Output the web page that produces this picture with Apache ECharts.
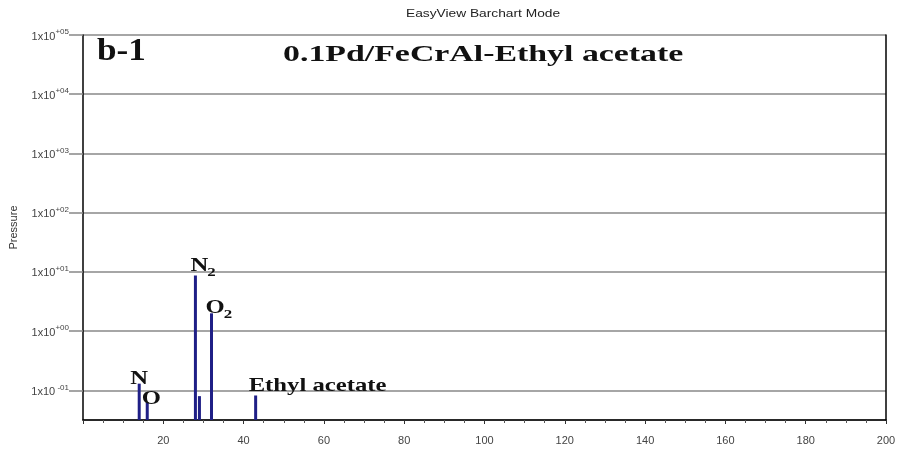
<!DOCTYPE html>
<html>
<head>
<meta charset="utf-8">
<script src="https://cdn.jsdelivr.net/npm/echarts@6/dist/echarts.min.js"></script>
<style>
html,body{margin:0;padding:0;background:#fff;}
#chart{width:899px;height:455px;}
</style>
</head>
<body>
<div id="chart"></div>
<script>
// ---- data ----
const massNumbers = [14, 16, 28, 29, 32, 43];
const pressures   = [0.13, 0.063, 8.7, 0.08, 2.0, 0.082];
const peakNames   = ['N', 'O', 'N', '', 'O', 'Ethyl acetate'];
const peakSubs    = ['', '', '2', '', '2', ''];
const xRange = [0, 200];
const yRange = [Math.pow(10, -1.5), 1e5];
const chartTitle = 'EasyView Barchart Mode';
const panelTag = 'b-1';
const panelTitle = '0.1Pd/FeCrAl-Ethyl acetate';
const yAxisName = 'Pressure';

// ---- label placement (style only) ----
const labelPlace = [
  {dx: 0,  dy: 1,  align: 'center'},
  {dx: 4,  dy: 2,  align: 'center'},
  {dx: -5, dy: -4, align: 'left'},
  null,
  {dx: -6, dy: 0,  align: 'left'},
  {dx: -7, dy: -4, align: 'left'}
];
const serif = '"Liberation Serif", "Times New Roman", serif';
const sans = '"Liberation Sans", Arial, sans-serif';
const LABEL_SIZE = 19, SUB_SIZE = 13, LABEL_SX = 1.3;

const measureCtx = document.createElement('canvas').getContext('2d');
function textW(str, font){ measureCtx.font = font; return measureCtx.measureText(str).width; }

const barColor = '#1f1f86';
const chart = echarts.init(document.getElementById('chart'), null, {renderer: 'canvas'});

const peakData = massNumbers.map((m, i) => [m, pressures[i], i]);

function pad2(n){ return (n < 10 ? '0' : '') + n; }

const option = {
  backgroundColor: '#fff',
  animation: false,
  grid: {left: 81, right: 13, top: 35, bottom: 35, containLabel: false},
  xAxis: {
    type: 'value', min: xRange[0], max: xRange[1], interval: 20,
    axisLine: {show: true, lineStyle: {color: '#000', width: 1.5}},
    axisTick: {show: true, length: 4, inside: false, lineStyle: {color: '#333'}},
    minorTick: {show: true, splitNumber: 4, length: 3, lineStyle: {color: '#555'}},
    splitLine: {show: false},
    axisLabel: {
      color: '#444', fontSize: 11, margin: 15, fontFamily: sans,
      formatter: v => v === 0 ? '' : String(v)
    }
  },
  yAxis: [{
    type: 'log', logBase: 10, min: yRange[0], max: yRange[1], splitNumber: 7,
    name: yAxisName, nameLocation: 'middle', nameGap: 64, nameRotate: 90,
    nameTextStyle: {color: '#333', fontSize: 11, fontFamily: sans},
    axisLine: {show: true, lineStyle: {color: '#000', width: 1.5}},
    axisTick: {show: true, length: 14, lineStyle: {color: '#888', width: 1.5}},
    splitLine: {show: true, lineStyle: {color: '#888', width: 1.5}},
    axisLabel: {
      showMinLabel: false, margin: 14, color: '#444', fontFamily: sans,
      formatter: function (v) {
        const e = Math.log10(v);
        const r = Math.round(e);
        if (Math.abs(e - r) > 1e-6) return '';
        const s = (r < 0 ? ' -' : '+') + pad2(Math.abs(r));
        return '{b|1x10}{e|' + s + '}';
      },
      rich: {
        b: {fontSize: 11, color: '#444', fontFamily: sans, verticalAlign: 'bottom'},
        e: {fontSize: 8, color: '#444', fontFamily: sans, verticalAlign: 'top', padding: [0, 0, 6, 0]}
      }
    }
  }, {
    type: 'log', logBase: 10, min: yRange[0], max: yRange[1], position: 'right',
    axisLine: {show: true, onZero: false, lineStyle: {color: '#000', width: 1.5}},
    axisTick: {show: false}, axisLabel: {show: false}, splitLine: {show: false}
  }],
  graphic: [
    {type: 'text', x: 406, y: 8, scaleX: 1.25,
      style: {text: chartTitle, font: '11px ' + sans, fill: '#222'}},
    {type: 'text', x: 97, y: 36, scaleX: 1.1,
      style: {text: panelTag, font: 'bold 32px ' + serif, fill: '#111'}},
    {type: 'text', x: 283, y: 43, scaleX: 1.41,
      style: {text: panelTitle, font: 'bold 24px ' + serif, fill: '#111'}}
  ],
  series: [{
    type: 'custom',
    coordinateSystem: 'cartesian2d',
    data: peakData,
    encode: {x: 0, y: 1},
    clip: false,
    renderItem: function (params, api) {
      const x = api.value(0), y = api.value(1), idx = api.value(2);
      const top = api.coord([x, y]);
      const base = api.coord([x, yRange[0]]);
      const children = [{
        type: 'rect',
        shape: {x: top[0] - 1.5, y: top[1], width: 3, height: base[1] - top[1]},
        style: {fill: barColor}
      }];
      const p = labelPlace[idx];
      const name = peakNames[idx];
      if (p && name) {
        const mainFont = 'bold ' + LABEL_SIZE + 'px ' + serif;
        const w = textW(name, mainFont) * LABEL_SX;
        const left = p.align === 'center' ? top[0] + p.dx - w / 2 : top[0] + p.dx;
        const baseline = top[1] + p.dy;
        children.push({
          type: 'text', x: left, y: baseline + 4, scaleX: LABEL_SX,
          style: {text: name, font: mainFont, fill: '#111', align: 'left', verticalAlign: 'bottom'}
        });
        if (peakSubs[idx]) {
          children.push({
            type: 'text', x: left + w - 1, y: baseline + 8, scaleX: LABEL_SX,
            style: {text: peakSubs[idx], font: 'bold ' + SUB_SIZE + 'px ' + serif, fill: '#111', align: 'left', verticalAlign: 'bottom'}
          });
        }
      }
      return {type: 'group', children: children};
    }
  }]
};
chart.setOption(option);
</script>
</body>
</html>
